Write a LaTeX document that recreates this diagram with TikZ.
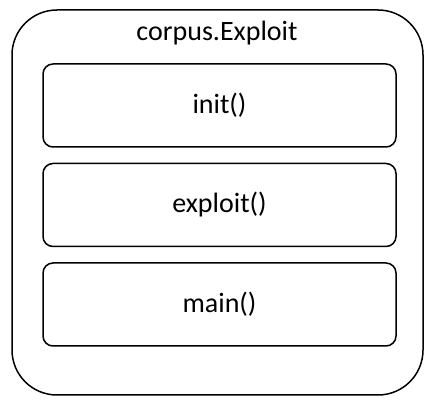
\documentclass[tikz,border=0pt]{standalone}
\usepackage{fontspec}
\setmainfont{Carlito}
\usetikzlibrary{positioning}

\begin{document}
\begin{tikzpicture}[x=1pt, y=1pt,
  module/.style={draw=black, line width=1.5pt, rounded corners=45pt,
                 minimum width=411pt, minimum height=385pt, inner sep=0pt},
  method/.style={draw=black, line width=1.5pt, rounded corners=10pt,
                 minimum width=353pt, minimum height=83pt, inner sep=0pt,
                 font=\fontsize{28}{32}\selectfont}
]
\useasboundingbox (0,0) rectangle (436,409);
\node[module] (exploitmod) at (217.5,206.5) {};
\node[font=\fontsize{28}{32}\selectfont] (title) at (217,376) {corpus.Exploit};
\node[method] (init) at (219.5,303.5) {init()};
\node[method, below=15pt of init] (exploit) {exploit()};
\node[method, below=15pt of exploit] (main) {main()};
\end{tikzpicture}
\end{document}
